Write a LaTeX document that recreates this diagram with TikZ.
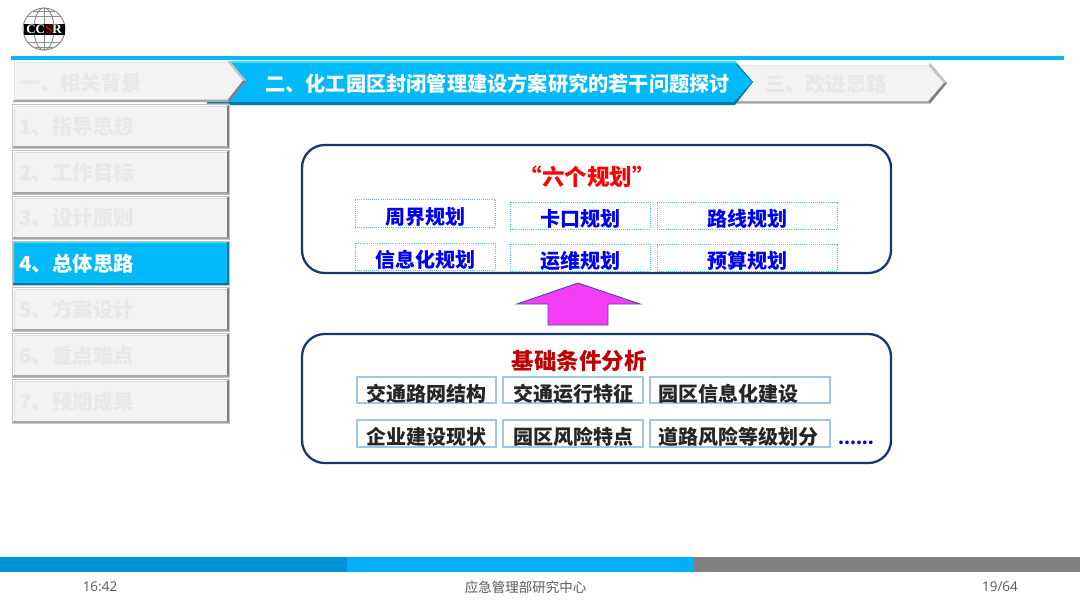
\documentclass[tikz,border=0pt]{standalone}
\usepackage{fontspec}
\setmainfont{Noto Sans CJK SC}
\newfontfamily\footfont{Open Sans}
\newfontfamily\logofont{Liberation Serif}
\definecolor{skyb}{HTML}{00B9F8}
\definecolor{skylt}{HTML}{2FE0FF}
\definecolor{skydk}{HTML}{06789F}
\definecolor{face}{HTML}{F4F2F3}
\definecolor{ghost}{HTML}{E9E8E8}
\definecolor{edgeR}{HTML}{808080}
\definecolor{edgeB}{HTML}{A6A6A6}
\definecolor{edgeO}{HTML}{C4C4C4}
\definecolor{navyb}{HTML}{17376E}
\definecolor{dashb}{HTML}{55BDE8}
\definecolor{solb}{HTML}{9CC6EA}
\definecolor{planb}{HTML}{0000F0}
\definecolor{footg}{HTML}{595959}
\definecolor{magen}{HTML}{F53DF5}
\definecolor{logog}{HTML}{8C8C8C}
\newcommand{\pxfont}[1]{\pgfmathsetmacro{\fszv}{#1*0.75}\fontsize{\fszv pt}{\fszv pt}\selectfont}
% generic box from pixel corners
\newcommand{\cornerbox}[7]{% name x1 y1 x2 y2 style text
  \pgfmathsetmacro{\cbx}{(#2+#4)/2}\pgfmathsetmacro{\cby}{(#3+#5)/2}
  \pgfmathsetmacro{\cbw}{(#4-#2)*0.75}\pgfmathsetmacro{\cbh}{(#5-#3)*0.75}
  \node[#6,minimum width=\cbw pt,minimum height=\cbh pt,text width=\cbw pt-17*0.75pt] (#1) at (\cbx,\cby) {#7};
}
% bevelled sidebar button: name y1 y2 top bottom right textstyle text
\newcommand{\bevbtn}[8]{%
  \fill[#5] (12,#2) rectangle (229,#3);
  \pgfmathsetmacro{\ya}{#2+2.5}\pgfmathsetmacro{\yb}{#3-2.5}
  \fill[#4] (12,#2) -- (229,#2) -- (226.5,\ya) -- (14.5,\ya) -- (14.5,\yb) -- (12,#3) -- cycle;
  \fill[#6] (229,#2) -- (229,#3) -- (226.5,\yb) -- (226.5,\ya) -- cycle;
  \fill[#5] (12,#3) -- (229,#3) -- (226.5,\yb) -- (14.5,\yb) -- cycle;
  \cornerbox{#1}{14.5}{\ya}{226.5}{\yb}{#7}{\hspace*{-2.6pt}\raisebox{-6.05pt}[0pt][0pt]{#8}}
  \draw[edgeO,line width=0.5pt] (12,#2) rectangle (229,#3);
}
\tikzset{
  grayface/.style={fill=face,inner sep=0pt,align=left,text=ghost,font=\bfseries\pxfont{20.4}},
  blueface/.style={fill=skyb,inner sep=0pt,align=left,text=white,font=\bfseries\pxfont{20.4}},
  tabtext/.style={inner sep=0pt,font=\bfseries\pxfont{20.2}},
  bigbox/.style={draw=navyb,line width=1.7pt,rounded corners=17pt,fill=white},
  planbox/.style={draw=dashb,densely dotted,line width=0.6pt,inner sep=0pt,align=center,text=planb,font=\bfseries\pxfont{20}},
  basebox/.style={draw=solb,line width=0.8pt,inner sep=0pt,align=center,text=black!85,font=\bfseries\pxfont{20}},
  baseleft/.style={basebox,align=left},
  heading/.style={inner sep=0pt,font=\bfseries\pxfont{22.5}},
  uparrow/.style={draw=black!10!blue!40!gray,fill=magen,line width=0.7pt},
  footer/.style={inner sep=0pt,text=footg,font=\pxfont{13.5}},
  bar/.style={inner sep=0pt,minimum height=15*0.75pt},
}
\newcommand{\low}[1]{\raisebox{-8.4pt}[0pt][0pt]{#1}}
\begin{document}
\begin{tikzpicture}[x=0.75pt,y=-0.75pt]
\useasboundingbox (0,0) rectangle (1080,608);
\fill[white] (0,0) rectangle (1080,608);

% logo
\begin{scope}[logog,line width=0.7pt]
  \draw (44,29) circle (21);
  \draw (44,29) ellipse (10 and 21);
  \draw (44,8) -- (44,50);
  \draw (27,16) -- (61,16);
  \draw (27,42) -- (61,42);
  \draw (24,29) -- (64,29);
  \draw (33,11) -- (55,11);
  \draw (33,47) -- (55,47);
\end{scope}
\node[fill=black,inner sep=0pt,minimum width=41*0.75pt,minimum height=11*0.75pt,text=white,font=\logofont\bfseries\pxfont{13}] (logo) at (44,29.5) {\raisebox{-3.1pt}[0pt][0pt]{CC\textcolor{red!80!black}{S}R}};

% top line
\fill[skyb] (11,56) rectangle (1064,60);

% third tab
\fill[edgeB] (730,63) -- (930,63) -- (947,83) -- (930,103.5) -- (730,103.5) -- cycle;
\fill[white] (730,63) -- (930,63) -- (945,83) -- (928.5,65.5) -- (730,65.5) -- cycle;
\fill[face] (730,65.5) -- (928.5,65.5) -- (944,83) -- (928.5,101) -- (730,101) -- cycle;
\fill[edgeO] (930,63) -- (947,83) -- (944,83) -- (928.5,65.5) -- cycle;
\fill[edgeR] (947,83) -- (930,103.5) -- (928.5,101) -- (944,83) -- cycle;
\node[tabtext,text=ghost,anchor=west] (tabc) at (765,84) {三、改进思路};

% blue tab
\fill[skydk] (207,102) -- (229,102) -- (229,61) -- (735,61) -- (753,82) -- (735,105) -- (229,105) -- (229,103.5) -- (207,103.5) -- cycle;
\fill[skylt] (229,61) -- (735,61) -- (737,63.5) -- (229,63.5) -- cycle;
\fill[skyb] (229,63.5) -- (735,63.5) -- (752,82) -- (734,102) -- (229,102) -- cycle;
\node[tabtext,text=white,anchor=west] (tabb) at (265,84) {二、化工园区封闭管理建设方案研究的若干问题探讨};

% first gray tab
\fill[edgeB] (12,60) -- (229,60) -- (246,80.5) -- (229,102) -- (12,102) -- cycle;
\fill[white] (14.5,62.5) -- (228,62.5) -- (243,80.5) -- (229,60) -- (12,60) -- (12,102) -- (14.5,99.5) -- cycle;
\fill[face] (14.5,62.5) -- (228,62.5) -- (243,80.5) -- (228,99.5) -- (14.5,99.5) -- cycle;
\fill[edgeO] (229,60) -- (246,80.5) -- (243,80.5) -- (228,62.5) -- cycle;
\fill[edgeR] (246,80.5) -- (229,102) -- (228,99.5) -- (243,80.5) -- cycle;
\node[tabtext,text=ghost,anchor=west,font=\bfseries\pxfont{20.2}] (taba) at (20,83) {一、相关背景};

% sidebar buttons
\bevbtn{s1}{104}{148}{white}{edgeB}{edgeR}{grayface}{1、指导思想}
\bevbtn{s2}{150}{194}{white}{edgeB}{edgeR}{grayface}{2、工作目标}
\bevbtn{s3}{196}{239}{white}{edgeB}{edgeR}{grayface}{3、设计原则}
\bevbtn{s4}{241}{285}{skylt}{skydk}{skydk}{blueface}{4、总体思路}
\bevbtn{s5}{287}{331}{white}{edgeB}{edgeR}{grayface}{5、方案设计}
\bevbtn{s6}{333}{377}{white}{edgeB}{edgeR}{grayface}{6、重点难点}
\bevbtn{s7}{379}{423}{white}{edgeB}{edgeR}{grayface}{7、预期成果}

% upper panel
\draw[bigbox] (302,145) rectangle (891,273);
\node[heading,text=red] (plantitle) at (587,177) {“六个规划”};
\cornerbox{p1}{355}{199}{495}{227}{planbox}{\low{周界规划}}
\cornerbox{p2}{510}{202}{650}{229}{planbox}{\low{卡口规划}}
\cornerbox{p3}{657}{202}{837}{229}{planbox}{\low{路线规划}}
\cornerbox{p4}{355}{243}{495}{270}{planbox}{\low{信息化规划}}
\cornerbox{p5}{510}{244}{650}{271}{planbox}{\low{运维规划}}
\cornerbox{p6}{657}{244}{837}{271}{planbox}{\low{预算规划}}

% arrow
\draw[uparrow] (578,283) -- (640,304) -- (608,304) -- (608,325) -- (548,325) -- (548,304) -- (517,304) -- cycle;

% lower panel
\draw[bigbox] (302,334) rectangle (891,463);
\node[heading,text=red!75!black] (basetitle) at (579,361) {基础条件分析};
\cornerbox{b1}{357}{377}{496}{403}{basebox}{\low{交通路网结构}}
\cornerbox{b2}{503}{377}{643}{403}{basebox}{\low{交通运行特征}}
\cornerbox{b3}{650}{377}{830}{403}{baseleft}{\low{园区信息化建设}}
\cornerbox{b4}{357}{420}{496}{447}{basebox}{\low{企业建设现状}}
\cornerbox{b5}{503}{420}{643}{447}{basebox}{\low{园区风险特点}}
\cornerbox{b6}{650}{420}{830}{447}{baseleft}{\low{道路风险等级划分}}
\node[inner sep=0pt,text=planb,font=\bfseries\pxfont{17},anchor=base] (more) at (856,444) {......};

% footer
\node[bar,minimum width=347*0.75pt,fill={rgb,255:red,0;green,146;blue,214},anchor=west] (bara) at (0,564.5) {};
\node[bar,minimum width=347*0.75pt,fill={rgb,255:red,0;green,176;blue,255},anchor=west] (barb) at (347,564.5) {};
\node[bar,minimum width=386*0.75pt,fill=edgeR,anchor=west] (barc) at (694,564.5) {};
\node[footer,font=\footfont\pxfont{13.5}] (ftime) at (100,587) {16:42};
\node[footer] (forg) at (525.5,587) {应急管理部研究中心};
\node[footer,font=\footfont\pxfont{13.5}] (fpage) at (1000,587) {19/64};
\end{tikzpicture}
\end{document}
